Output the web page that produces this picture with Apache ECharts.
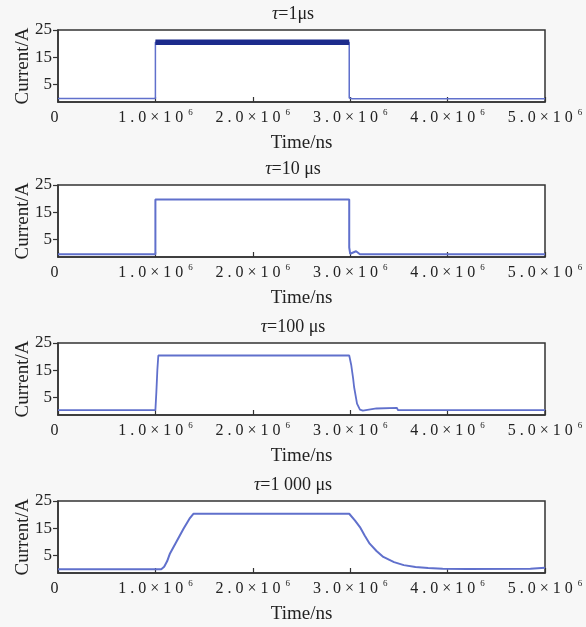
<!DOCTYPE html>
<html>
<head>
<meta charset="utf-8">
<script src="https://cdn.jsdelivr.net/npm/echarts@6/dist/echarts.min.js"></script>
<style>
  html, body { margin: 0; padding: 0; background: #f7f7f7; }
  #chart { width: 586px; height: 627px; }
</style>
</head>
<body>
<div id="chart"></div>
<script>
// Time constants shown above each panel
const tauLabels = ['1μs', '10 μs', '100 μs', '1 000 μs'];

// x-axis tick mantissas (×10^6 ns)
const xTickValues = [0, 1e6, 2e6, 3e6, 4e6, 5e6];
const xTickMantissas = ['0', '1.0', '2.0', '3.0', '4.0', '5.0'];
const yTickValues = [5, 15, 25];

// τ = 1 µs
const tau1Time    = [0, 1.0e6, 1.0e6, 2.99e6, 2.99e6, 3.02e6, 5.0e6];
const tau1Current = [-0.2, -0.2, 20.5, 20.5, 0.0, -0.3, -0.3];
// ripple envelope during the pulse
const tau1RippleTime = [1.0e6, 2.99e6];
const tau1RippleLow  = 19.5;
const tau1RippleHigh = 21.5;

// τ = 10 µs
const tau2Time    = [0, 1.0e6, 1.0e6, 2.99e6, 2.99e6, 3.0e6, 3.06e6, 3.1e6, 5.0e6];
const tau2Current = [-0.5, -0.5, 19.7, 19.7, 2.0, -0.3, 0.6, -0.5, -0.5];

// τ = 100 µs
const tau3Time    = [0, 1.0e6, 1.01e6, 1.02e6, 1.03e6, 2.99e6, 3.01e6, 3.03e6, 3.04e6, 3.07e6, 3.10e6, 3.13e6, 3.27e6, 3.48e6, 3.49e6, 5.0e6];
const tau3Current = [0.3, 0.3, 7.0, 15.0, 20.4, 20.4, 17.0, 12.0, 8.8, 2.7, 0.5, 0.1, 0.9, 1.1, 0.3, 0.3];

// τ = 1 000 µs
const tau4Time    = [0, 1.06e6, 1.09e6, 1.12e6, 1.15e6, 1.22e6, 1.29e6, 1.35e6, 1.39e6, 2.99e6, 3.05e6, 3.10e6, 3.15e6, 3.20e6, 3.27e6, 3.34e6, 3.45e6, 3.55e6, 3.67e6, 3.80e6, 3.95e6, 4.2e6, 4.85e6, 5.0e6];
const tau4Current = [-0.1, -0.1, 0.8, 2.8, 5.7, 10.3, 14.9, 18.5, 20.3, 20.3, 17.8, 15.4, 12.2, 9.3, 6.6, 4.4, 2.5, 1.4, 0.7, 0.3, 0.1, 0.0, 0.1, 0.4];

const panels = [
  { time: tau1Time, current: tau1Current, width: 1.5 },
  { time: tau2Time, current: tau2Current, width: 2 },
  { time: tau3Time, current: tau3Current, width: 1.8 },
  { time: tau4Time, current: tau4Current, width: 2 }
];

const gridTops = [30, 185, 343, 501];
const gridHeight = 72;
const serif = '"Liberation Serif", "DejaVu Serif", serif';
const ink = '#222';
const traceColor = '#6070cc';

function spaced(s) { return s.split('').join(' '); }

// every label carries the raised-exponent slot so all sit on one baseline
function xLabel(value) {
  const i = xTickValues.indexOf(value);
  if (i <= 0) return '{m|0}{s| }';
  return '{m|' + spaced(xTickMantissas[i] + '×10') + '}{s|6}';
}

const series = panels.map((p, i) => ({
  type: 'line', xAxisIndex: i, yAxisIndex: i,
  data: p.time.map((t, k) => [t, p.current[k]]),
  showSymbol: false, symbol: 'none',
  lineStyle: { color: traceColor, width: p.width },
  z: 3
}));

// dense ripple of the 1 µs pulse: a band centred between its envelope values
const rippleMid = (tau1RippleLow + tau1RippleHigh) / 2;
series.push({
  type: 'line', xAxisIndex: 0, yAxisIndex: 0, z: 5,
  data: tau1RippleTime.map(t => [t, rippleMid]),
  showSymbol: false, symbol: 'none',
  lineStyle: { color: '#1c2b8c', width: 5.5, cap: 'butt' }
});

const option = {
  backgroundColor: '#f7f7f7',
  animation: false,
  title: tauLabels.map((t, i) => ({
    text: '{t|τ}{n|=' + t + '}',
    left: 'center',
    top: gridTops[i] - 25,
    padding: 0,
    textStyle: {
      fontWeight: 'normal',
      rich: {
        t: { fontFamily: serif, fontSize: 18, fontStyle: 'italic', fontWeight: 'normal', color: ink },
        n: { fontFamily: serif, fontSize: 18, fontWeight: 'normal', color: ink }
      }
    }
  })),
  grid: gridTops.map(top => ({
    left: 58, right: 41, top: top, height: gridHeight,
    outerBoundsMode: 'none', containLabel: false,
    show: true, backgroundColor: '#ffffff', borderColor: '#333', borderWidth: 1.5
  })),
  xAxis: gridTops.map((_, i) => ({
    type: 'value', gridIndex: i, min: 0, max: 5e6, interval: 1e6,
    name: 'Time/ns', nameLocation: 'middle', nameGap: 32,
    nameTextStyle: { fontFamily: serif, fontSize: 19, color: ink },
    axisLine: { show: true, onZero: false, lineStyle: { color: '#333', width: 1.5 } },
    axisTick: { show: true, inside: true, length: 5, lineStyle: { color: '#333', width: 1.2 } },
    splitLine: { show: false },
    axisLabel: {
      margin: 6, formatter: xLabel, fontFamily: serif, fontSize: 16, color: ink,
      showMinLabel: true, showMaxLabel: true,
      rich: {
        m: { fontFamily: serif, fontSize: 16, color: ink },
        s: { fontFamily: serif, fontSize: 9, color: ink, padding: [0, 0, 10, 5] }
      }
    }
  })),
  yAxis: gridTops.map((_, i) => ({
    type: 'value', gridIndex: i, min: -1.5, max: 25,
    name: 'Current/A', nameLocation: 'middle', nameGap: 25, nameMoveOverlap: false,
    nameTextStyle: { fontFamily: serif, fontSize: 19, color: ink },
    axisLine: { show: true, onZero: false, lineStyle: { color: '#333', width: 1.5 } },
    axisTick: { show: true, inside: false, length: 5, customValues: yTickValues, lineStyle: { color: '#333', width: 1.2 } },
    splitLine: { show: false },
    axisLabel: { margin: 6, customValues: yTickValues, fontFamily: serif, fontSize: 17, color: ink }
  })),
  series: series
};

const chart = echarts.init(document.getElementById('chart'), null, { renderer: 'canvas' });
chart.setOption(option);
</script>
</body>
</html>
